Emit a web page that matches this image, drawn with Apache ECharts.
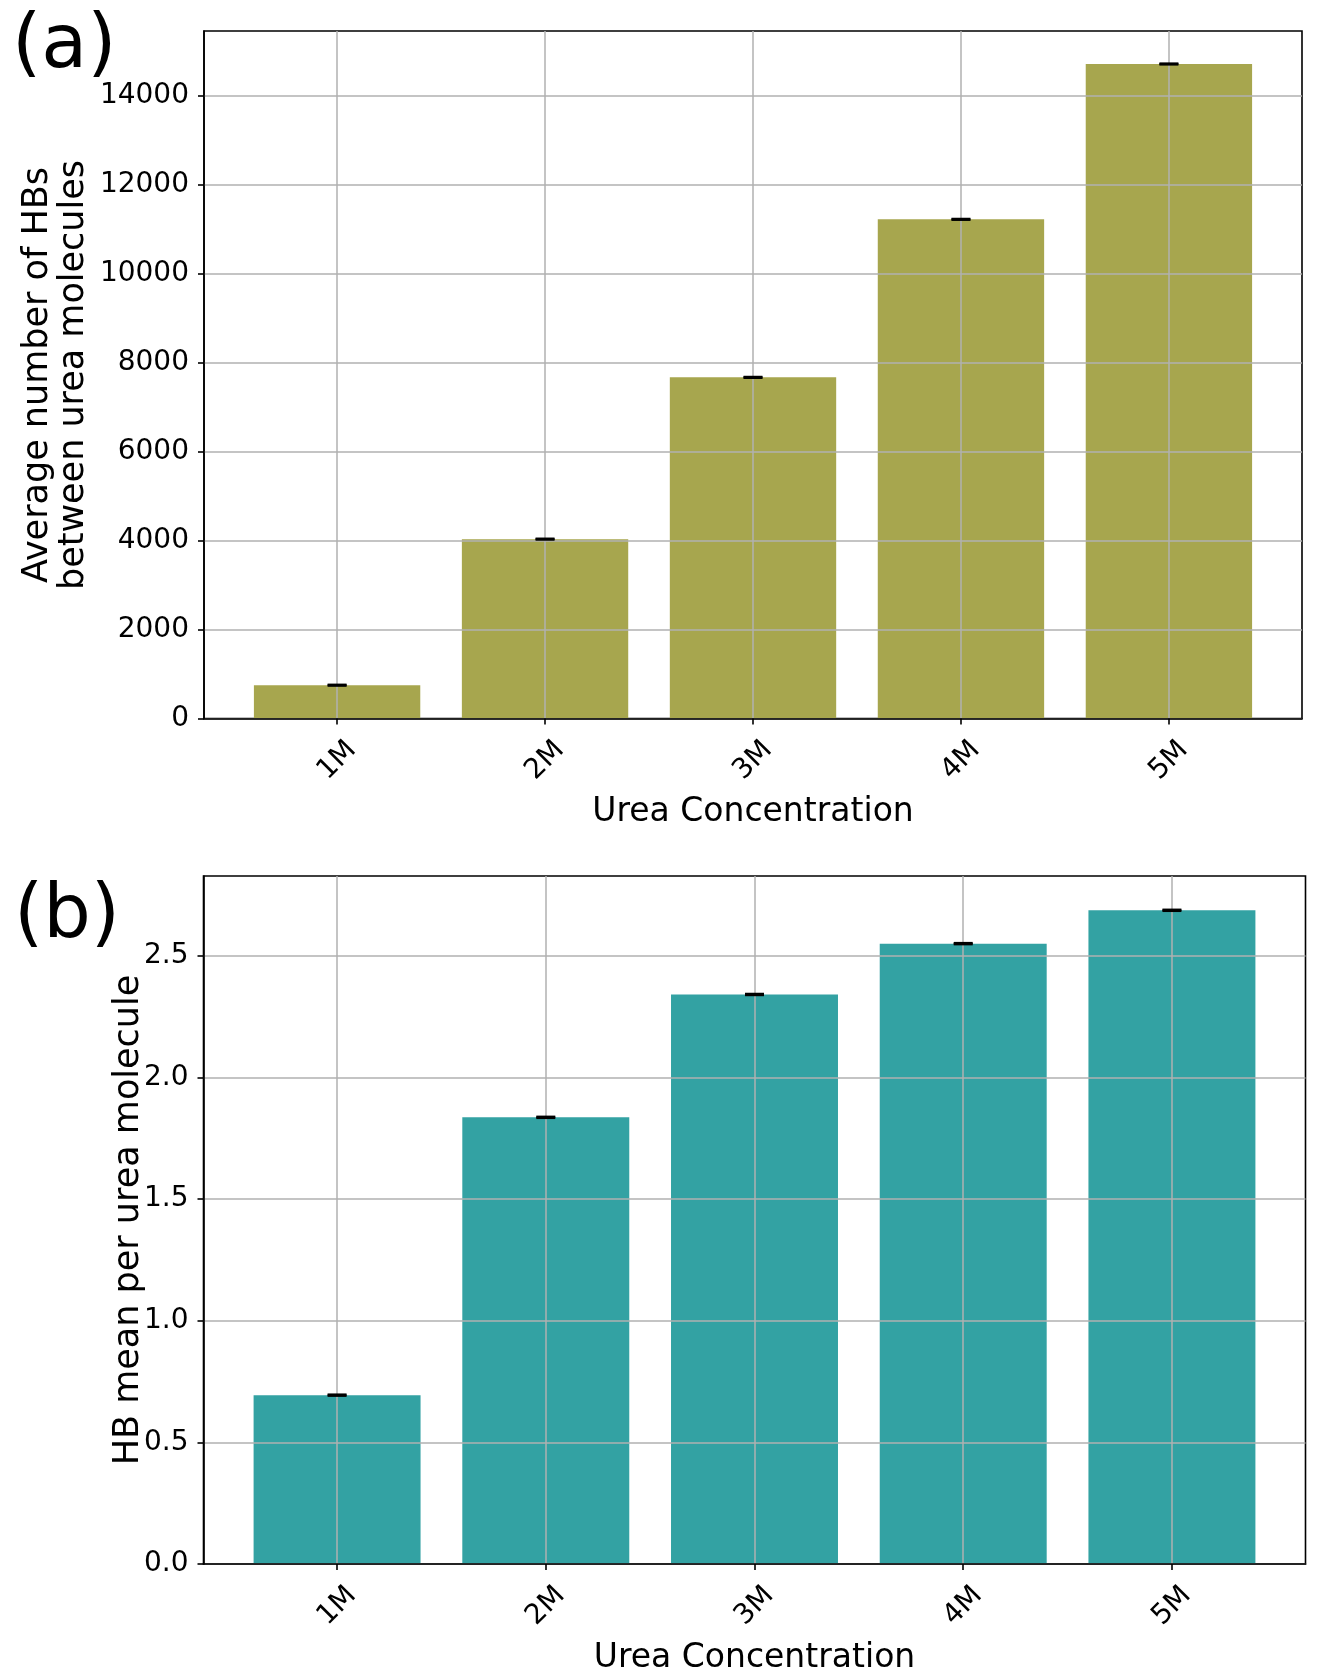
<!DOCTYPE html>
<html>
<head>
<meta charset="utf-8">
<script src="https://cdn.jsdelivr.net/npm/echarts@6/dist/echarts.min.js"></script>
<style>
html,body{margin:0;padding:0;background:#fff;}
#c{width:1328px;height:1677px;}
</style>
</head>
<body>
<div id="c"></div>
<script>
// ---- data ----
const categories = ['1M', '2M', '3M', '4M', '5M'];
const hbTotal = [749, 4034, 7672, 11226, 14720];
const hbTotalErr = [8, 8, 8, 8, 8];
const hbPerUrea = [0.694, 1.836, 2.341, 2.550, 2.687];
const hbPerUreaErr = [0.002, 0.002, 0.002, 0.002, 0.002];
const ticksTop = [0, 2000, 4000, 6000, 8000, 10000, 12000, 14000];
const ticksBottom = [0, 0.5, 1.0, 1.5, 2.0, 2.5];

const FONT = 'DejaVu Sans';
const idx = categories.map((c, i) => i);
const gridCol = '#b0b0b0';

function xAxisDef(gridIndex) {
  return {
    type: 'value', gridIndex: gridIndex, min: -0.64, max: 4.64, z: 5,
    axisLine: {show: true, onZero: false, lineStyle: {color: '#000', width: 1.6}},
    axisTick: {show: true, customValues: idx, length: 6, lineStyle: {color: '#000', width: 1.6}},
    axisLabel: {
      customValues: idx, rotate: 45, margin: 42, align: 'center', verticalAlign: 'middle',
      fontFamily: FONT, fontSize: 28, color: '#000',
      formatter: v => categories[Math.round(v)]
    },
    splitLine: {show: true, lineStyle: {color: gridCol, width: 1.5}}
  };
}
function yAxisDef(gridIndex, max, ticks, fmt) {
  return {
    type: 'value', gridIndex: gridIndex, min: 0, max: max, z: 5,
    axisLine: {show: true, onZero: false, lineStyle: {color: '#000', width: 1.6}},
    axisTick: {show: true, customValues: ticks, length: 6, lineStyle: {color: '#000', width: 1.6}},
    axisLabel: {customValues: ticks, margin: 15, fontFamily: FONT, fontSize: 28, color: '#000', formatter: fmt},
    splitLine: {show: true, lineStyle: {color: gridCol, width: 1.5}}
  };
}
function errRender(params, api) {
  const x = api.value(0), v = api.value(1), e = api.value(2);
  const hi = api.coord([x, v + e]), lo = api.coord([x, v - e]);
  const hw = 9.5;
  const st = {stroke: '#000', lineWidth: 2.5};
  return {type: 'group', children: [
    {type: 'line', shape: {x1: hi[0], y1: hi[1], x2: lo[0], y2: lo[1]}, style: {stroke: '#000', lineWidth: 2}},
    {type: 'line', shape: {x1: hi[0] - hw, y1: hi[1], x2: hi[0] + hw, y2: hi[1]}, style: st},
    {type: 'line', shape: {x1: lo[0] - hw, y1: lo[1], x2: lo[0] + hw, y2: lo[1]}, style: st}
  ]};
}

const chart = echarts.init(document.getElementById('c'), null, {renderer: 'canvas'});
chart.setOption({
  backgroundColor: '#fff',
  animation: false,
  grid: [
    {left: 204, top: 31, width: 1098, height: 687.5, show: true, borderColor: '#000', borderWidth: 1.6, backgroundColor: 'transparent'},
    {left: 203.5, top: 876, width: 1102, height: 688, show: true, borderColor: '#000', borderWidth: 1.6, backgroundColor: 'transparent'}
  ],
  xAxis: [xAxisDef(0), xAxisDef(1)],
  yAxis: [
    yAxisDef(0, 15462, ticksTop, v => String(v)),
    yAxisDef(1, 2.828, ticksBottom, v => v.toFixed(1))
  ],
  series: [
    {type: 'bar', xAxisIndex: 0, yAxisIndex: 0, barWidth: '80%', z: 2,
     itemStyle: {color: '#a7a64e'}, data: hbTotal.map((v, i) => [i, v])},
    {type: 'custom', xAxisIndex: 0, yAxisIndex: 0, z: 10, renderItem: errRender,
     data: hbTotal.map((v, i) => [i, v, hbTotalErr[i]])},
    {type: 'bar', xAxisIndex: 1, yAxisIndex: 1, barWidth: '80%', z: 2,
     itemStyle: {color: '#33a2a3'}, data: hbPerUrea.map((v, i) => [i, v])},
    {type: 'custom', xAxisIndex: 1, yAxisIndex: 1, z: 10, renderItem: errRender,
     data: hbPerUrea.map((v, i) => [i, v, hbPerUreaErr[i]])}
  ],
  graphic: [
    {type: 'text', left: 12, top: 10, style: {text: '(a)', fontFamily: FONT, fontSize: 75, fill: '#000'}},
    {type: 'text', left: 14, top: 880, style: {text: '(b)', fontFamily: FONT, fontSize: 75, fill: '#000'}},
    {type: 'text', x: 753, y: 812, style: {text: 'Urea Concentration', fontFamily: FONT, fontSize: 33, fill: '#000', align: 'center', verticalAlign: 'middle'}},
    {type: 'text', x: 754.5, y: 1658, style: {text: 'Urea Concentration', fontFamily: FONT, fontSize: 33, fill: '#000', align: 'center', verticalAlign: 'middle'}},
    {type: 'text', x: 56, y: 375, rotation: Math.PI / 2,
     style: {text: 'Average number of HBs\nbetween urea molecules', fontFamily: FONT, fontSize: 35, lineHeight: 36, fill: '#000', align: 'center', verticalAlign: 'middle'}},
    {type: 'text', x: 129, y: 1220, rotation: Math.PI / 2,
     style: {text: 'HB mean per urea molecule', fontFamily: FONT, fontSize: 35, fill: '#000', align: 'center', verticalAlign: 'middle'}}
  ]
});
</script>
</body>
</html>
